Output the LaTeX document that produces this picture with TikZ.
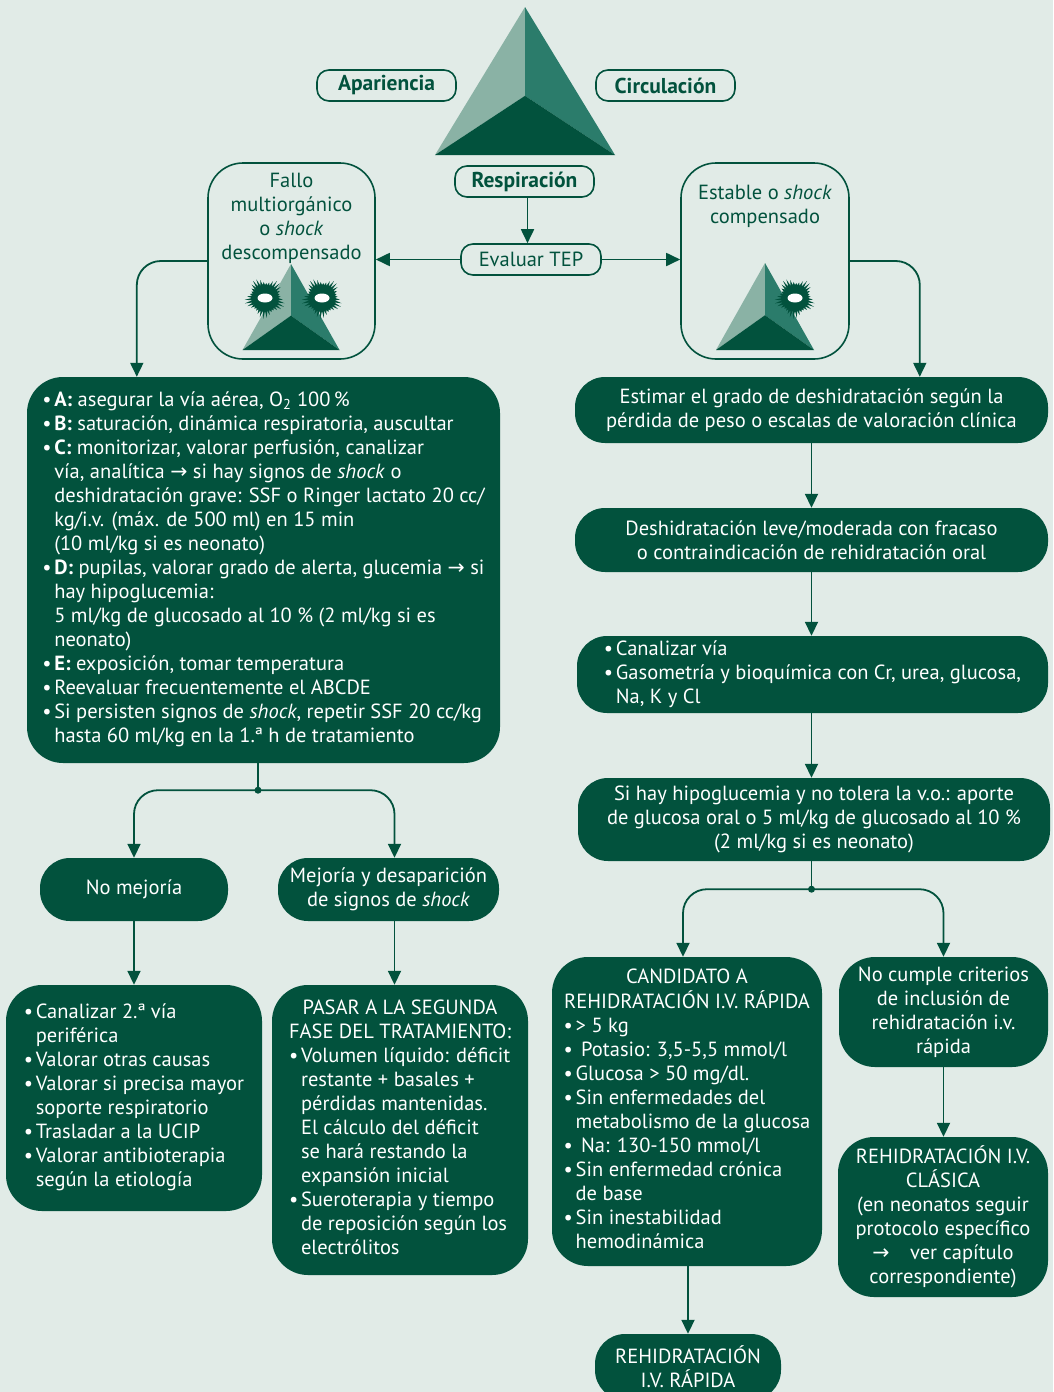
\documentclass[tikz,border=0pt]{standalone}
\usepackage{fontspec}
\setmainfont{PT Sans}
\newfontfamily\arrowfont{DejaVu Sans}
\usetikzlibrary{arrows.meta,calc}

\definecolor{fondo}{HTML}{E1EBE7}
\definecolor{verde}{HTML}{02523D}
\definecolor{verdemedio}{HTML}{2B7C6B}
\definecolor{verdeclaro}{HTML}{8AB2A5}

\newcommand{\flecha}{{\arrowfont →}}
\newcommand{\bul}{\makebox[12pt][l]{\textbullet}}
\newcommand{\sang}{\hspace*{12pt}}
\newcommand{\centrada}[1]{\multicolumn{1}{@{}c@{}}{#1}}

% piramide del TEP: apex en (#1,#2), semiancho #3, alto #4
\newcommand{\piramide}[4]{%
  \begin{scope}[shift={(#1,#2)},xscale=#3,yscale=#4]
    \fill[verdeclaro] (0,0) -- (0,0.6) -- (-1,1) -- cycle;
    \fill[verdemedio] (0,0) -- (0,0.6) -- (1,1) -- cycle;
    \fill[verde] (-1,1) -- (0,0.6) -- (1,1) -- cycle;
  \end{scope}}

% mancha con pinchos y ojo blanco
\newcommand{\mancha}[2]{%
  \begin{scope}[shift={(#1,#2)}]
    \fill[verde] (0:13) \foreach \a in {0,10,...,350} {-- (\a:13) -- (\a+5:{18+3*sin(5*\a)})} -- cycle;
    \fill[white] (0,0) ellipse (7.5 and 4.5);
  \end{scope}}

\tikzset{
  texto/.style={font=\fontsize{20.5}{24}\selectfont},
  caja/.style={texto, fill=verde, text=white, rounded corners=30pt, align=center, inner sep=0pt},
  etiqueta/.style={draw=verde, line width=1.6pt, text=verde, rounded corners=12pt, inner sep=0pt,
    minimum height=31pt, font=\fontsize{20.5}{24}\selectfont},
  negrita/.style={font=\fontsize{21.5}{24}\selectfont\bfseries},
  marco/.style={draw=verde, line width=1.6pt, rounded corners=35pt, inner sep=0pt},
  linea/.style={draw=verde, line width=1.8pt},
  conector/.style={linea, -{Triangle[length=14pt,width=13pt]}},
  nudo/.style={circle, fill=verde, inner sep=0pt, minimum size=7pt},
}

\begin{document}
\begin{tikzpicture}[x=1pt,y=-1pt]
  \fill[fondo] (0,0) rectangle (1053,1392);
  \useasboundingbox (0,0) rectangle (1053,1392);
  \clip (0,0) rectangle (1053,1392);

  % triangulo de evaluacion pediatrica
  \piramide{525}{7}{90}{148}
  \node[etiqueta, negrita, minimum width=139pt] (apar) at (386.5,85.5) {Apariencia};
  \node[etiqueta, negrita, minimum width=139pt] (circ) at (665.5,85.5) {Circulación};
  \node[etiqueta, negrita, minimum width=139pt] (resp) at (524.5,181.5) {Respiración};
  \node[etiqueta, minimum width=140pt] (tep) at (531,259.5) {Evaluar TEP};

  % los dos estados
  \node[marco, minimum width=167pt, minimum height=196pt] (fallo) at (291.5,261) {};
  \node[texto, text=verde, align=center] (fallotxt) at (291.5,218)
    {Fallo\\multiorgánico\\o \textit{shock}\\descompensado};
  \piramide{291}{264}{48.5}{86}
  \mancha{265}{298}
  \mancha{322}{298}

  \node[marco, minimum width=168pt, minimum height=196pt] (estable) at (765,261) {};
  \node[texto, text=verde, align=center] (establetxt) at (765,206)
    {Estable o \textit{shock}\\compensado};
  \piramide{765}{263}{49}{87}
  \mancha{795}{298}

  % rama izquierda
  \node[caja, minimum width=473pt, minimum height=386pt, rounded corners=36pt] (abcde) at (263.5,570) {%
    \begin{tabular}{@{}l@{}}
    \bul\textbf{A:} asegurar la vía aérea, O\textsubscript{2} 100\,\%\\
    \bul\textbf{B:} saturación, dinámica respiratoria, auscultar\\
    \bul\textbf{C:} monitorizar, valorar perfusión, canalizar\\
    \sang vía, analítica \flecha{} si hay signos de \textit{shock} o\\
    \sang deshidratación grave: SSF o Ringer lactato 20 cc/\\
    \sang kg/i.v. (máx. de 500 ml) en 15 min\\
    \sang (10 ml/kg si es neonato)\\
    \bul\textbf{D:} pupilas, valorar grado de alerta, glucemia \flecha{} si\\
    \sang hay hipoglucemia:\\
    \sang 5 ml/kg de glucosado al 10 \% (2 ml/kg si es\\
    \sang neonato)\\
    \bul\textbf{E:} exposición, tomar temperatura\\
    \bul Reevaluar frecuentemente el ABCDE\\
    \bul Si persisten signos de \textit{shock}, repetir SSF 20 cc/kg\\
    \sang hasta 60 ml/kg en la 1.ª h de tratamiento
    \end{tabular}};

  \node[caja, minimum width=188pt, minimum height=63pt] (nomej) at (134,889.5) {No mejoría};
  \node[caja, minimum width=221pt, minimum height=63pt] (mejor) at (388.5,889.5)
    {Mejoría y desaparición\\de signos de \textit{shock}};

  \node[caja, minimum width=256pt, minimum height=226pt, rounded corners=36pt] (canal2) at (134,1098) {%
    \begin{tabular}{@{}l@{}}
    \bul Canalizar 2.ª vía\\
    \sang periférica\\
    \bul Valorar otras causas\\
    \bul Valorar si precisa mayor\\
    \sang soporte respiratorio\\
    \bul Trasladar a la UCIP\\
    \bul Valorar antibioterapia\\
    \sang según la etiología
    \end{tabular}};

  \node[caja, minimum width=256pt, minimum height=290pt, rounded corners=36pt] (pasar) at (400,1130) {%
    \begin{tabular}{@{}l@{}}
    \centrada{PASAR A LA SEGUNDA}\\
    \centrada{FASE DEL TRATAMIENTO:}\\
    \bul Volumen líquido: déficit\\
    \sang restante + basales +\\
    \sang pérdidas mantenidas.\\
    \sang El cálculo del déficit\\
    \sang se hará restando la\\
    \sang expansión inicial\\
    \bul Sueroterapia y tiempo\\
    \sang de reposición según los\\
    \sang electrólitos
    \end{tabular}};

  % rama derecha
  \node[caja, minimum width=473pt, minimum height=66pt] (estimar) at (811.5,410)
    {Estimar el grado de deshidratación según la\\pérdida de peso o escalas de valoración clínica};
  \node[caja, minimum width=473pt, minimum height=64pt] (deshid) at (811.5,540)
    {Deshidratación leve/moderada con fracaso\\o contraindicación de rehidratación oral};
  \node[caja, minimum width=471pt, minimum height=77pt] (canal) at (812.5,674.5) {%
    \begin{tabular}{@{}l@{}}
    \bul Canalizar vía\\
    \bul Gasometría y bioquímica con Cr, urea, glucosa,\\
    \sang Na, K y Cl
    \end{tabular}};
  \node[caja, minimum width=472pt, minimum height=83pt] (hipo) at (814,819.5)
    {Si hay hipoglucemia y no tolera la v.o.: aporte\\de glucosa oral o 5 ml/kg de glucosado al 10 \%\\(2 ml/kg si es neonato)};

  \node[caja, minimum width=270pt, minimum height=309pt, rounded corners=36pt] (candi) at (687,1111.5) {%
    \begin{tabular}{@{}l@{}}
    \centrada{CANDIDATO A}\\
    \centrada{REHIDRATACIÓN I.V. RÁPIDA}\\
    \bul > 5 kg\\
    \bul\ Potasio: 3,5-5,5 mmol/l\\
    \bul Glucosa > 50 mg/dl.\\
    \bul Sin enfermedades del\\
    \sang metabolismo de la glucosa\\
    \bul\ Na: 130-150 mmol/l\\
    \bul Sin enfermedad crónica\\
    \sang de base\\
    \bul Sin inestabilidad\\
    \sang hemodinámica
    \end{tabular}};
  \node[caja, minimum width=209pt, minimum height=110pt, rounded corners=36pt] (nocumple) at (943.5,1012)
    {No cumple criterios\\de inclusión de\\rehidratación i.v.\\rápida};
  \node[caja, minimum width=210pt, minimum height=160pt, rounded corners=36pt] (clasica) at (943,1217)
    {REHIDRATACIÓN I.V.\\CLÁSICA\\(en neonatos seguir\\protocolo específico\\\flecha\quad ver capítulo\\correspondiente)};
  \node[caja, minimum width=186pt, minimum height=66pt] (rapida) at (688,1367)
    {REHIDRATACIÓN\\I.V. RÁPIDA};

  % conectores
  \draw[conector] ([xshift=3pt]resp.south) -- ([xshift=3pt]resp.south |- tep.north);
  \draw[conector] (tep.west) -- (tep.west -| fallo.east);
  \draw[conector] (tep.east) -- (tep.east -| estable.west);
  \draw[conector, rounded corners=24pt] (fallo.west) -| ([xshift=110pt]abcde.north west);
  \draw[conector, rounded corners=24pt] (estable.east) -| ([xshift=345pt]estimar.north west);

  \node[nudo] (nudo1) at ([yshift=-27pt]abcde.south -| 258,0) {};
  \draw[linea] (nudo1 |- abcde.south) -- (nudo1);
  \draw[conector, rounded corners=24pt] (nudo1.center) -| (nomej.north);
  \draw[conector, rounded corners=24pt] (nudo1.center) -| ([xshift=6pt]mejor.north);
  \draw[conector] (nomej) -- (nomej.south |- canal2.north);
  \draw[conector] ([xshift=6pt]mejor.south) -- ([xshift=6pt]mejor.south |- pasar.north);

  \draw[conector] (estimar.south) -- (estimar.south |- deshid.north);
  \draw[conector] (deshid.south) -- (deshid.south |- canal.north);
  \draw[conector] (estimar.south |- canal.south) -- (estimar.south |- hipo.north);
  \node[nudo] (nudo2) at ([yshift=-28pt]estimar.south |- hipo.south) {};
  \draw[linea] (nudo2 |- hipo.south) -- (nudo2);
  \draw[conector, rounded corners=24pt] (nudo2.center) -| ([xshift=-4pt]candi.north);
  \draw[conector, rounded corners=24pt] (nudo2.center) -| (nocumple.north);
  \draw[conector] (nocumple) -- (nocumple.south |- clasica.north);
  \draw[conector] (candi.south -| rapida) -- (rapida.north);
\end{tikzpicture}
\end{document}
